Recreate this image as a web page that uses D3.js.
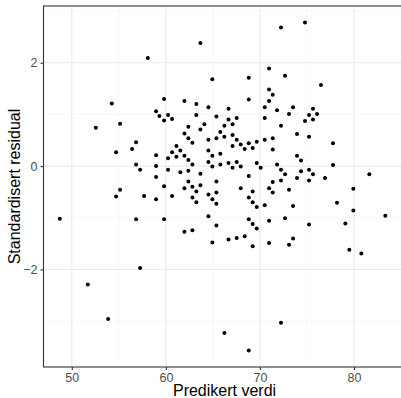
<!DOCTYPE html>
<html>
<head>
<meta charset="utf-8">
<script src="https://cdn.jsdelivr.net/npm/d3@7"></script>
<style>
  body { margin: 0; background: #fff; }
  svg text { font-family: "Liberation Sans", Arial, sans-serif; }
</style>
</head>
<body>
<div id="chart"></div>
<script>
// predicted values (x) and standardised residuals (y)
const predikert = [
  48.72, 51.70, 52.55, 53.86, 54.25, 54.71, 54.71, 55.13, 55.13, 56.41,
  56.83, 56.83, 56.83, 57.26, 57.26, 57.68, 58.08, 58.96, 59.31, 58.96,
  58.96, 58.96, 58.96, 59.81, 59.81, 59.81, 59.81, 60.23, 60.23, 60.23,
  60.66, 60.66, 60.66, 61.12, 61.12, 61.54, 61.54, 61.97, 61.97, 61.97,
  61.97, 61.97, 62.39, 62.39, 62.39, 62.39, 62.39, 62.82, 62.82, 62.82,
  62.82, 62.82, 63.24, 63.24, 63.24, 63.24, 63.67, 63.67, 63.67, 63.67,
  64.09, 64.52, 64.52, 64.52, 64.52, 64.52, 64.52, 64.94, 64.94, 64.94,
  64.94, 64.94, 65.37, 65.37, 65.37, 65.37, 65.37, 65.37, 65.79, 65.79,
  65.79, 66.22, 66.22, 66.22, 66.66, 66.66, 66.66, 66.66, 67.09, 67.09,
  67.09, 67.09, 67.53, 67.53, 67.53, 67.53, 67.96, 67.96, 67.96, 68.38,
  68.38, 68.81, 68.81, 68.81, 68.81, 68.81, 68.81, 68.81, 69.23, 69.23,
  69.23, 69.23, 69.23, 69.66, 69.66, 69.66, 69.66, 70.08, 70.51, 70.51,
  70.51, 70.51, 70.97, 70.97, 70.97, 70.97, 70.97, 70.97, 71.36, 71.36,
  71.36, 71.36, 71.36, 71.82, 71.82, 72.24, 72.24, 72.24, 72.24, 72.24,
  72.67, 72.67, 72.67, 73.09, 73.09, 73.09, 73.52, 73.52, 73.52, 73.94,
  73.94, 73.94, 74.37, 74.37, 74.79, 74.79, 75.22, 75.22, 75.22, 75.22,
  75.22, 75.64, 75.64, 75.64, 76.07, 76.49, 76.92, 77.77, 77.77, 78.19,
  79.08, 79.50, 79.93, 79.93, 80.78, 81.63, 83.33
];
const residual = [
  -1.02, -2.29, 0.74, -2.96, 1.21, 0.27, -0.59, 0.82, -0.46, 0.33,
  0.46, 0.03, -1.03, -0.07, -1.97, -0.58, 2.09, 1.06, 0.97, 0.21,
  0.00, -0.21, -0.64, 1.30, 0.88, -0.39, -1.03, 0.99, -0.07, 0.15,
  0.91, 0.27, -0.58, 0.39, 0.18, 0.30, -0.12, 1.26, 0.63, 0.20,
  -0.43, -1.27, 0.76, 0.54, 0.12, -0.09, -0.30, 0.45, 0.03, -0.40,
  -0.61, -1.24, 1.20, 0.99, -0.49, -0.70, 2.38, 0.71, -0.15, -0.37,
  0.81, 1.14, 0.51, 0.30, 0.08, -0.55, -0.97, 1.68, 0.20, -0.01,
  -0.64, -1.48, 0.96, 0.54, -0.30, -0.51, -0.73, -1.15, 0.66, 0.24,
  0.03, 0.78, 0.57, -3.23, 1.11, 0.90, 0.06, -1.42, 0.81, 0.60,
  0.39, -0.03, 0.93, 0.51, 0.08, -1.39, 0.42, -0.01, -0.43, 0.33,
  -1.36, 1.71, 1.29, 0.44, -0.19, -0.61, -1.03, -3.57, 0.35, -0.49,
  -0.70, -1.12, -1.55, 0.47, 0.06, -0.79, -1.21, -0.03, 1.14, 0.93,
  0.51, -0.76, 1.89, 1.48, 1.26, -0.43, -1.06, -1.49, 1.38, 0.54,
  0.32, -0.31, -0.51, 1.08, 0.03, 0.78, 2.68, -0.07, -0.28, -3.03,
  1.75, -0.16, -1.01, 1.01, -0.46, -1.52, 1.14, -0.77, -1.40, 0.62,
  0.20, -0.23, 0.11, -0.10, 2.78, 0.87, 0.99, 0.57, -0.07, -0.28,
  -1.13, 1.11, 0.90, -0.16, 1.01, 1.57, -0.23, 0.44, 0.02, -0.71,
  -1.11, -1.62, -0.44, -0.86, -1.69, -0.16, -0.96
];
const xMajor = [50, 60, 70, 80];
const xMinor = [45, 55, 65, 75, 85];
const yMajor = [-2, 0, 2];
const yMinor = [-3, -1, 1, 3];

const size = { width: 401, height: 398 };
const panel = { left: 43.5, top: 6, right: 401.6, bottom: 367 };

const points = predikert.map((p, i) => ({ x: p, y: residual[i] }));

// ggplot-style 5% expansion of the data range
function expand(ext) {
    const pad = (ext[1] - ext[0]) * 0.05;
    return [ext[0] - pad, ext[1] + pad];
}

const xScale = d3.scaleLinear()
    .domain(expand(d3.extent(predikert)))
    .range([panel.left, panel.right]);

const yScale = d3.scaleLinear()
    .domain(expand(d3.extent(residual)))
    .range([panel.bottom, panel.top]);

const svg = d3.select("#chart")
    .append("svg")
    .attr("width", size.width)
    .attr("height", size.height);

const clip = svg.append("defs").append("clipPath")
    .attr("id", "panel-clip")
    .append("rect")
    .attr("x", panel.left)
    .attr("y", panel.top)
    .attr("width", panel.right - panel.left)
    .attr("height", panel.bottom - panel.top);

const grid = svg.append("g").attr("clip-path", "url(#panel-clip)");

// minor grid
grid.selectAll(".xminor").data(xMinor).enter().append("line")
    .attr("x1", d => xScale(d)).attr("x2", d => xScale(d))
    .attr("y1", panel.top).attr("y2", panel.bottom)
    .attr("stroke", "#f2f2f2").attr("stroke-width", 0.6);
grid.selectAll(".yminor").data(yMinor).enter().append("line")
    .attr("y1", d => yScale(d)).attr("y2", d => yScale(d))
    .attr("x1", panel.left).attr("x2", panel.right)
    .attr("stroke", "#f2f2f2").attr("stroke-width", 0.6);

// major grid
grid.selectAll(".xmajor").data(xMajor).enter().append("line")
    .attr("x1", d => xScale(d)).attr("x2", d => xScale(d))
    .attr("y1", panel.top).attr("y2", panel.bottom)
    .attr("stroke", "#ebebeb").attr("stroke-width", 1.1);
grid.selectAll(".ymajor").data(yMajor).enter().append("line")
    .attr("y1", d => yScale(d)).attr("y2", d => yScale(d))
    .attr("x1", panel.left).attr("x2", panel.right)
    .attr("stroke", "#ebebeb").attr("stroke-width", 1.1);

// points
svg.append("g")
    .selectAll("circle")
    .data(points)
    .enter()
    .append("circle")
    .attr("cx", d => xScale(d.x))
    .attr("cy", d => yScale(d.y))
    .attr("r", 2)
    .attr("fill", "#000");

// panel border
svg.append("rect")
    .attr("x", panel.left)
    .attr("y", panel.top)
    .attr("width", panel.right - panel.left)
    .attr("height", panel.bottom - panel.top)
    .attr("fill", "none")
    .attr("stroke", "#333333")
    .attr("stroke-width", 1.1);

// axes
const xAxis = d3.axisBottom(xScale)
    .tickValues(xMajor)
    .tickSize(3)
    .tickPadding(3);
const yAxis = d3.axisLeft(yScale)
    .tickValues(yMajor)
    .tickFormat(d3.format("d"))
    .tickSize(3)
    .tickPadding(3);

const gx = svg.append("g")
    .attr("transform", "translate(0," + panel.bottom + ")")
    .call(xAxis);
const gy = svg.append("g")
    .attr("transform", "translate(" + panel.left + ",0)")
    .call(yAxis);

[gx, gy].forEach(g => {
    g.select(".domain").remove();
    g.selectAll(".tick line").attr("stroke", "#333333").attr("stroke-width", 1.1);
    g.selectAll(".tick text")
        .attr("fill", "#4d4d4d")
        .style("font-size", "12.5px");
});

// axis titles
svg.append("text")
    .attr("x", (panel.left + panel.right) / 2 + 2)
    .attr("y", 396)
    .attr("text-anchor", "middle")
    .style("font-size", "16px")
    .attr("fill", "#000")
    .text("Predikert verdi");

svg.append("text")
    .attr("transform", "translate(20," + (panel.top + panel.bottom) / 2 + ") rotate(-90)")
    .attr("text-anchor", "middle")
    .style("font-size", "16px")
    .attr("fill", "#000")
    .text("Standardisert residual");
</script>
</body>
</html>
